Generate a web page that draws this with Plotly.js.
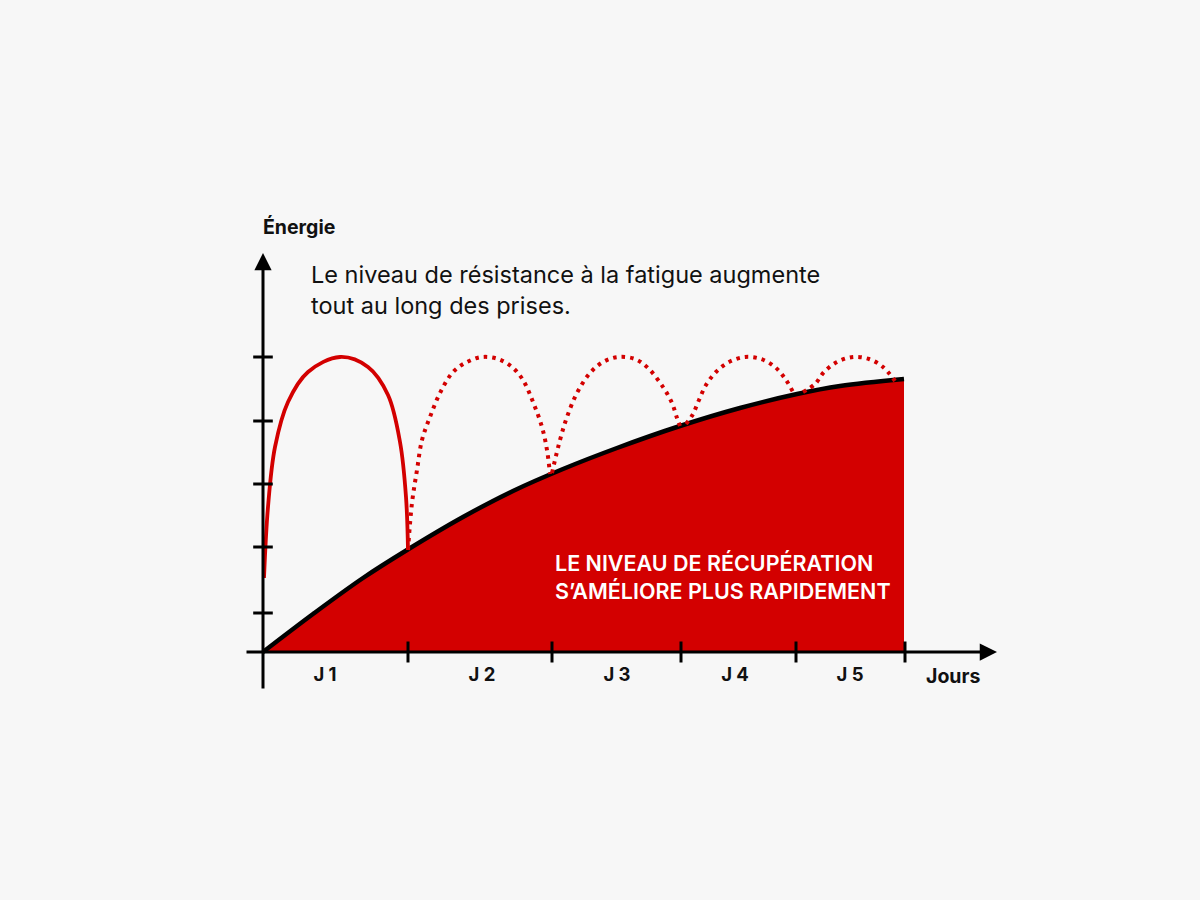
<!DOCTYPE html>
<html>
<head>
<meta charset="utf-8">
<script src="https://cdn.plot.ly/plotly-3.0.1.min.js"></script>
<style>
  html, body { margin: 0; padding: 0; background: #f7f7f7; }
  #myDiv { width: 1200px; height: 900px; }
</style>
</head>
<body>
<div id="myDiv"></div>
<script>
// courbe de récupération (noire, remplie en rouge)
var recupX = [0, 0.5, 1.0, 1.44, 2.0, 2.5, 3.0, 3.54, 4.17, 4.77, 5.34, 5.77, 6.41];
var recupY = [0, 0.38, 0.74, 1.02, 1.35, 1.61, 1.83, 2.04, 2.26, 2.44, 2.58, 2.66, 2.73];

// première prise (trait plein)
var prise1X = [0.01, 0.05, 0.12, 0.25, 0.45, 0.77, 1.05, 1.25, 1.37, 1.43, 1.45];
var prise1Y = [0.74, 1.45, 2.05, 2.50, 2.80, 2.95, 2.85, 2.57, 2.10, 1.55, 1.02];

// prises suivantes (pointillés)
var prise2X = [1.45, 1.49, 1.54, 1.59, 1.67, 1.77, 1.90, 2.04, 2.19, 2.35, 2.49, 2.60, 2.70, 2.79, 2.84, 2.87];
var prise2Y = [1.02, 1.49, 1.82, 2.12, 2.35, 2.59, 2.80, 2.90, 2.95, 2.93, 2.85, 2.72, 2.50, 2.25, 2.02, 1.78];
var prise3X = [2.89, 2.97, 3.04, 3.14, 3.27, 3.40, 3.55, 3.72, 3.85, 4.00, 4.09, 4.14, 4.17];
var prise3Y = [1.79, 2.12, 2.35, 2.59, 2.79, 2.90, 2.95, 2.93, 2.84, 2.65, 2.49, 2.34, 2.26];
var prise4X = [4.23, 4.30, 4.36, 4.43, 4.53, 4.66, 4.82, 4.98, 5.12, 5.23, 5.31];
var prise4Y = [2.28, 2.38, 2.52, 2.67, 2.80, 2.90, 2.95, 2.93, 2.85, 2.72, 2.58];
var prise5X = [5.40, 5.52, 5.61, 5.74, 5.90, 6.06, 6.20, 6.32];
var prise5Y = [2.60, 2.68, 2.80, 2.90, 2.95, 2.93, 2.85, 2.71];

// graduations
var xTicks = [1.45, 2.89, 4.18, 5.33, 6.42];
var yTicks = [0.39, 1.05, 1.68, 2.31, 2.95];

// jours
var dayLabels = ['J 1', 'J 2', 'J 3', 'J 4', 'J 5'];
var dayCenters = [0.62, 2.19, 3.54, 4.72, 5.87];

var red = '#d30000';
var font = 'Inter';

var traceRecup = {
  x: recupX, y: recupY,
  mode: 'lines',
  line: {color: '#000', width: 4.5, shape: 'spline', smoothing: 1},
  fill: 'tozeroy',
  fillcolor: red,
  hoverinfo: 'skip'
};

var tracePrise1 = {
  x: prise1X, y: prise1Y,
  mode: 'lines',
  line: {color: red, width: 3.8, shape: 'spline', smoothing: 1},
  hoverinfo: 'skip'
};

function dotted(xs, ys) {
  return {
    x: xs, y: ys,
    mode: 'lines',
    line: {color: red, width: 4, shape: 'spline', smoothing: 1, dash: '3.5px,5px'},
    hoverinfo: 'skip'
  };
}

var traceXTicks = {
  x: xTicks,
  y: xTicks.map(function () { return 0; }),
  mode: 'markers',
  marker: {symbol: 'line-ns', size: 15, line: {color: '#000', width: 3}},
  hoverinfo: 'skip'
};

var traceYTicks = {
  x: yTicks.map(function () { return 0; }),
  y: yTicks,
  mode: 'markers',
  marker: {symbol: 'line-ew', size: 14, line: {color: '#000', width: 3}},
  hoverinfo: 'skip'
};

var traceDays = {
  x: dayCenters,
  y: dayCenters.map(function () { return -0.24; }),
  mode: 'text',
  text: dayLabels,
  textposition: 'middle center',
  textfont: {family: font, size: 18.5, color: '#111', weight: 700},
  hoverinfo: 'skip'
};

var data = [traceRecup, tracePrise1,
  dotted(prise2X, prise2Y), dotted(prise3X, prise3Y),
  dotted(prise4X, prise4Y), dotted(prise5X, prise5Y),
  traceXTicks, traceYTicks, traceDays];

var layout = {
  autosize: false,
  width: 1200,
  height: 900,
  margin: {l: 0, r: 0, t: 0, b: 0},
  paper_bgcolor: '#f7f7f7',
  plot_bgcolor: '#f7f7f7',
  showlegend: false,
  xaxis: {range: [-2.63, 9.37], visible: false, fixedrange: true},
  yaxis: {range: [-2.48, 6.52], visible: false, fixedrange: true},
  annotations: [
    // axe horizontal
    {x: 7.34, y: 0, ax: -0.18, ay: 0, xref: 'x', yref: 'y', axref: 'x', ayref: 'y',
     text: '', showarrow: true, arrowhead: 2, arrowsize: 1.15, arrowwidth: 3, arrowcolor: '#000'},
    // axe vertical
    {x: 0, y: 3.99, ax: 0, ay: -0.38, xref: 'x', yref: 'y', axref: 'x', ayref: 'y',
     text: '', showarrow: true, arrowhead: 2, arrowsize: 1.15, arrowwidth: 3, arrowcolor: '#000'},
    {x: -0.02, y: 4.25, xref: 'x', yref: 'y', xanchor: 'left', yanchor: 'middle',
     text: 'Énergie', showarrow: false,
     font: {family: font, size: 19.5, color: '#111', weight: 700}},
    {x: 6.9, y: -0.24, xref: 'x', yref: 'y', xanchor: 'center', yanchor: 'middle',
     text: 'Jours', showarrow: false,
     font: {family: font, size: 19.5, color: '#111', weight: 700}},
    {x: 0.46, y: 3.62, xref: 'x', yref: 'y', xanchor: 'left', yanchor: 'middle', align: 'left',
     text: 'Le niveau de résistance à la fatigue augmente<br>tout au long des prises.',
     showarrow: false,
     font: {family: font, size: 23.5, color: '#111'}},
    {x: 2.90, y: 0.75, xref: 'x', yref: 'y', xanchor: 'left', yanchor: 'middle', align: 'left',
     text: 'LE NIVEAU DE RÉCUPÉRATION<br>S’AMÉLIORE PLUS RAPIDEMENT', showarrow: false,
     font: {family: font, size: 21.5, color: '#fff', weight: 600}}
  ]
};

Plotly.newPlot('myDiv', data, layout, {staticPlot: true});
</script>
</body>
</html>
